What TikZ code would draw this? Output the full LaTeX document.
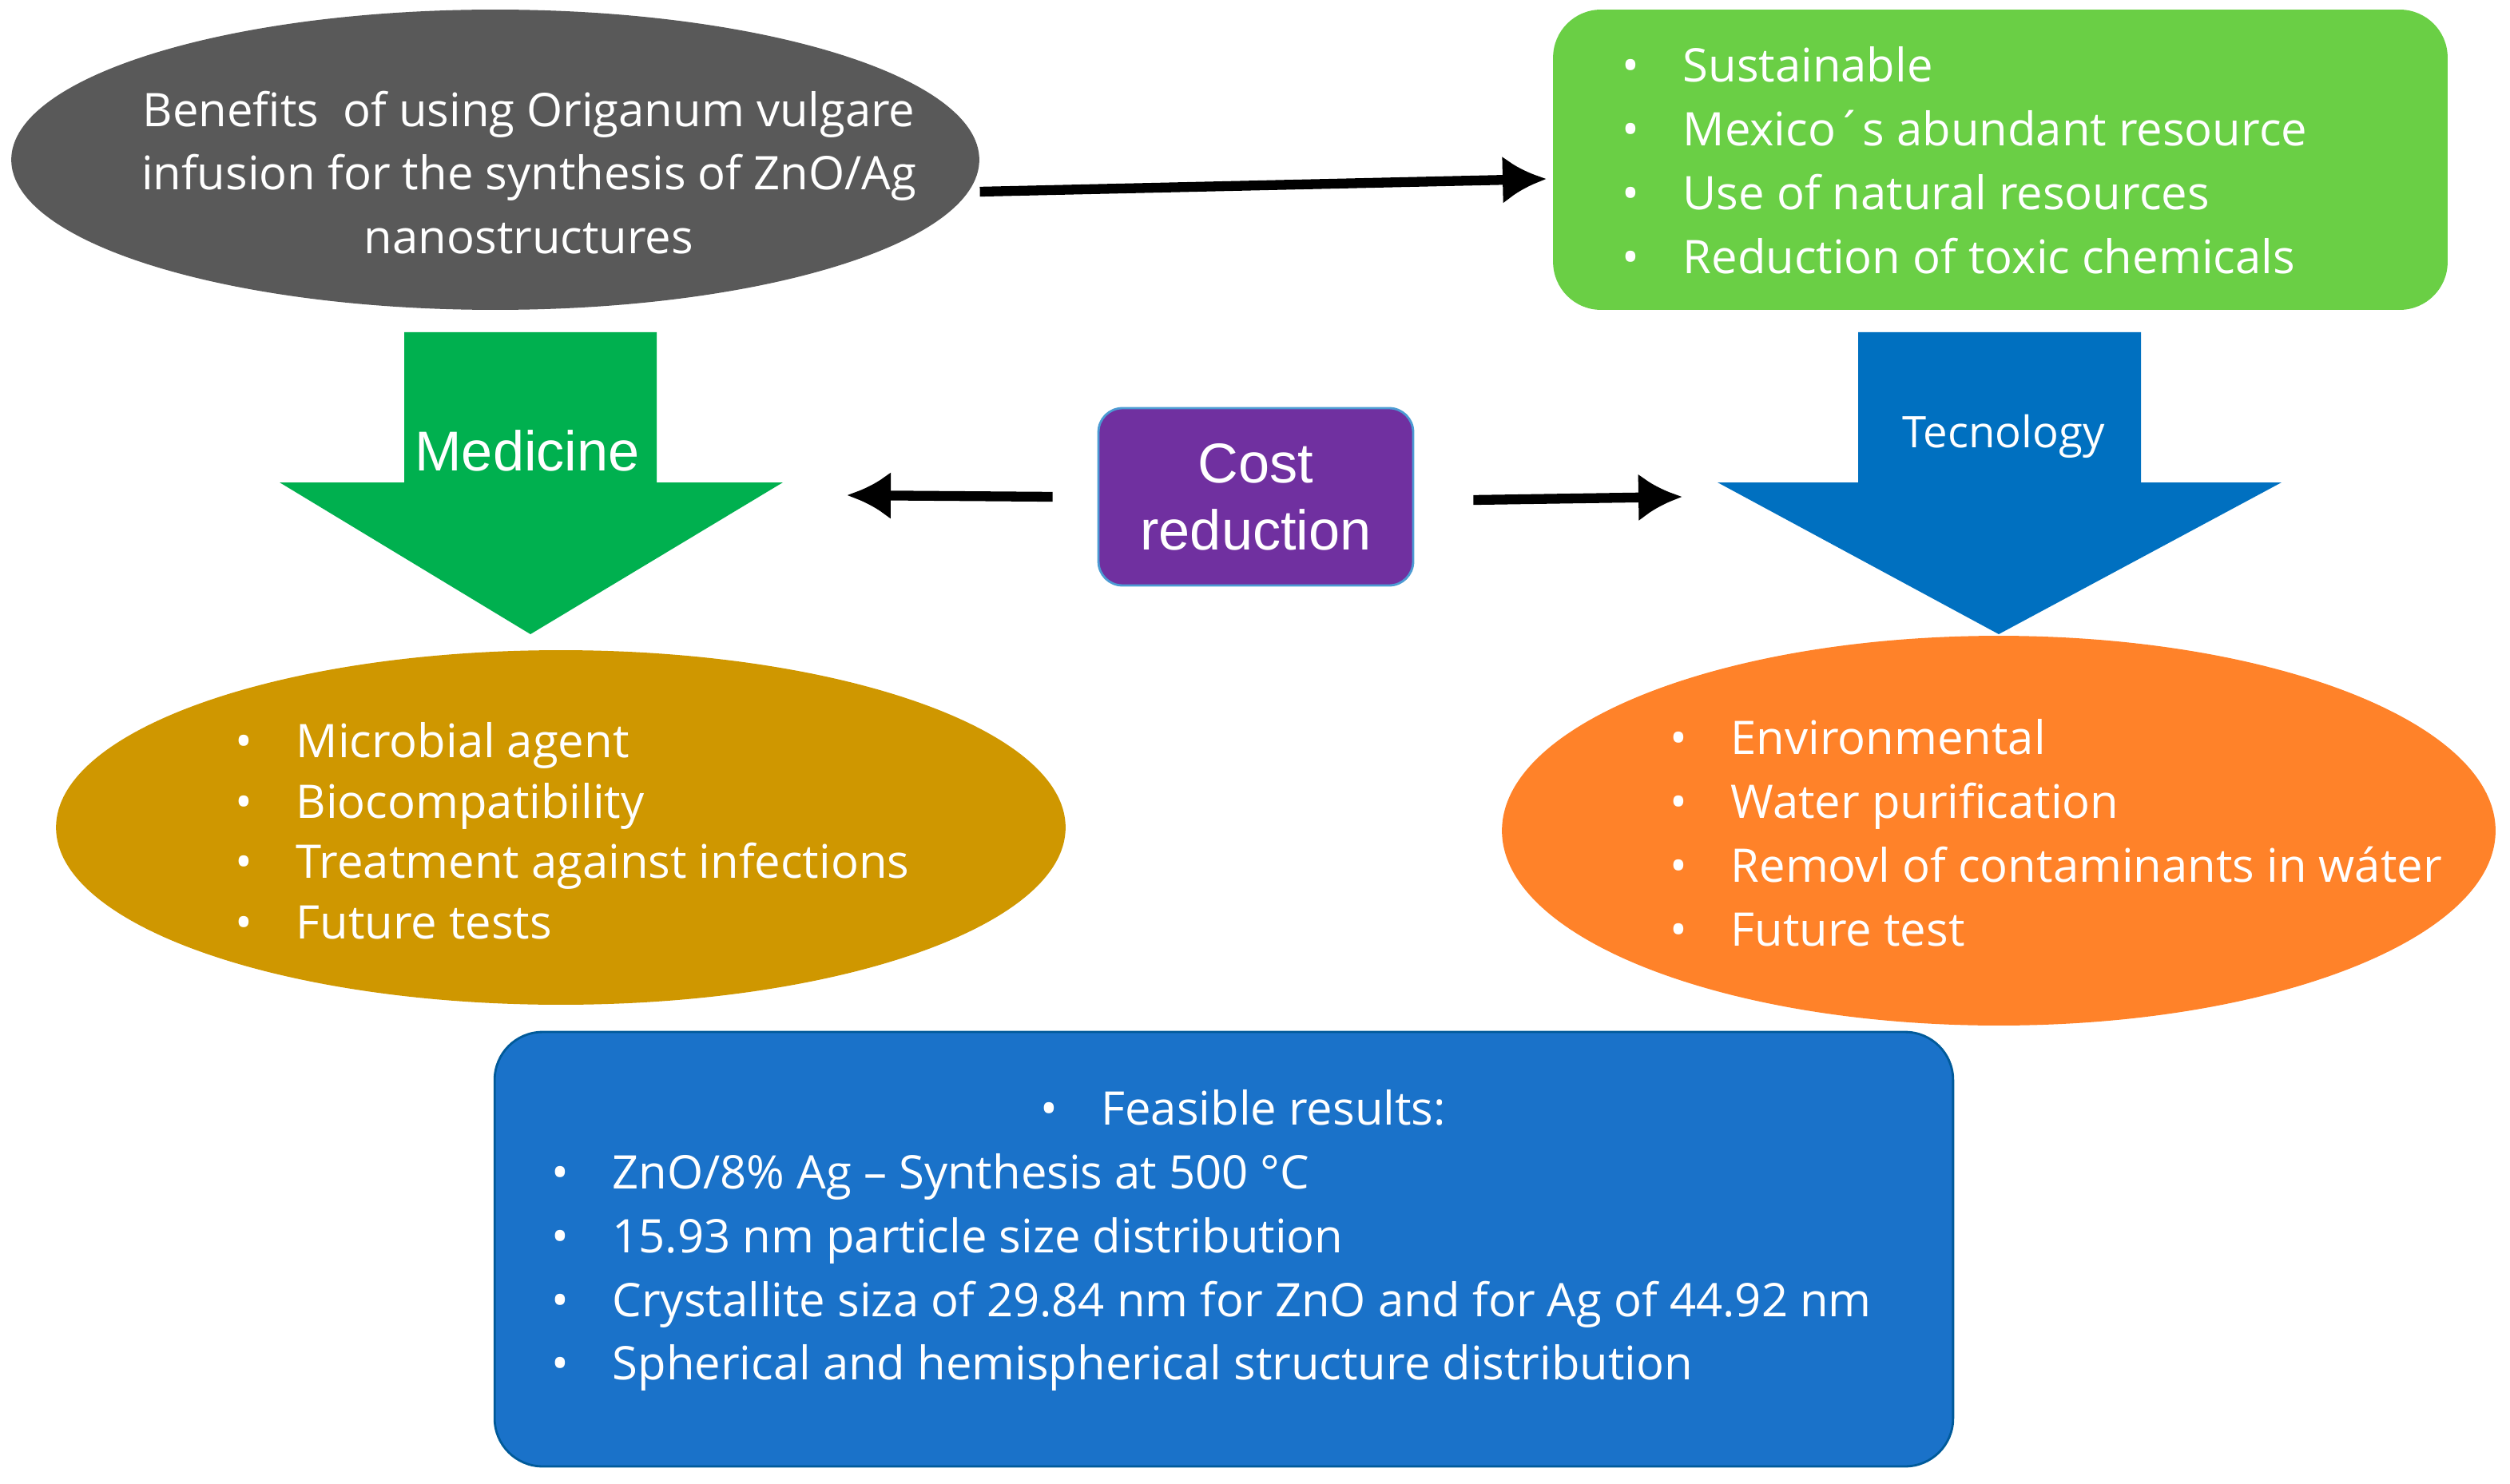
\documentclass[tikz,border=0pt]{standalone}
\usepackage{fontspec}
\setmainfont{Open Sans}
\newfontfamily\arialf{Liberation Sans}
\usetikzlibrary{positioning,calc,shapes.geometric,arrows.meta}
\definecolor{darkgrey}{HTML}{595959}
\definecolor{limegreen}{HTML}{6ACF45}
\definecolor{medgreen}{HTML}{00B04F}
\definecolor{techblue}{HTML}{0070C0}
\definecolor{costpurple}{HTML}{7030A0}
\definecolor{goldfill}{HTML}{CF9700}
\definecolor{orangefill}{HTML}{FF8229}
\definecolor{resblue}{HTML}{1A72C9}
\newcommand{\itm}[1]{\makebox[0.76cm][l]{\textbullet}#1\\}
\tikzset{
  txt/.style={text=white, font=\fontsize{16.5}{22.7}\selectfont},
  bubble/.style={ellipse, inner sep=0pt},
  list/.style={txt, align=left, inner sep=0pt, anchor=north west},
  card/.style={rounded corners=0.6cm},
  link/.style={line width=3.5pt, -{Latex[length=0.55cm,width=0.6cm]}, draw=black}
}
\begin{document}
\begin{tikzpicture}[x=0.02cm, y=-0.02cm]
  \useasboundingbox (0,0) rectangle (1571,929);
  % top row
  \node[bubble, fill=darkgrey, minimum width=12.12cm, minimum height=3.76cm] (benefits) at (310,100) {};
  \node[txt, align=center] (benefitstext) at (331,108) {Benefits\ \ of using Origanum vulgare\\infusion for the synthesis of ZnO/Ag\\nanostructures};
  \node[card, fill=limegreen, minimum width=11.2cm, minimum height=3.76cm] (advantages) at (1252,100) {};
  \node[list] (advlist) at (1015,29) {\itm{Sustainable}\itm{Mexico´s abundant resource}\itm{Use of natural resources}\itm{Reduction of toxic chemicals}};
  \draw[link] (benefits.east |- 613,120) -- (968,112);

  % block arrows
  \fill[medgreen] (253,208) -- (411,208) -- (411,302) -- (490,302) -- (332,397)
    -- (175,302) -- (253,302) -- cycle;
  \node[text=white, font=\arialf\fontsize{20}{22}\selectfont] (medicine) at (330,282) {Medicine};
  \fill[techblue] (1163,208) -- (1340,208) -- (1340,302) -- (1428,302) -- (1251,397)
    -- (1075,302) -- (1163,302) -- cycle;
  \node[text=white, font=\fontsize{15.5}{16}\selectfont] (tecnology) at (1254,273) {Tecnology};

  % cost reduction
  \node[rounded corners=0.3cm, fill=costpurple, draw=techblue!70, thick, minimum width=3.94cm,
    minimum height=2.22cm, text=white, align=center, font=\arialf\fontsize{20}{24}\selectfont]
    (cost) at (786,311) {Cost\\reduction};
  \coordinate (leftend) at (530,310);
  \coordinate (rightend) at (1053,311);
  \draw[link] ($(cost.west)+(-28,0)$) -- (leftend);
  \draw[link] ($(cost.east)+(37,2)$) -- (rightend);

  % application ellipses
  \node[bubble, fill=goldfill, minimum width=12.64cm, minimum height=4.44cm] (medical) at (351,518) {};
  \node[list, font=\fontsize{16.5}{21.5}\selectfont] (medlist) at (147,452) {\itm{Microbial agent}\itm{Biocompatibility}\itm{Treatment against infections}\itm{Future tests}};
  \node[bubble, fill=orangefill, minimum width=12.44cm, minimum height=4.88cm] (environment) at (1251,520) {};
  \node[list] (envlist) at (1045,450) {\itm{Environmental}\itm{Water purification}\itm{Removl of contaminants in wáter}\itm{Future test}};

  % results
  \node[card, fill=resblue, draw=techblue!80!black, thick, minimum width=18.26cm, minimum height=5.44cm] (results) at (766,782) {};
  \node[list] (reslist) at (345,682) {\hspace*{6.12cm}\itm{Feasible results:}\itm{ZnO/8\% Ag -- Synthesis at 500 °C}\itm{15.93 nm particle size distribution}\itm{Crystallite siza of 29.84 nm for ZnO and for Ag of 44.92 nm}\itm{Spherical and hemispherical structure distribution}};
\end{tikzpicture}
\end{document}
